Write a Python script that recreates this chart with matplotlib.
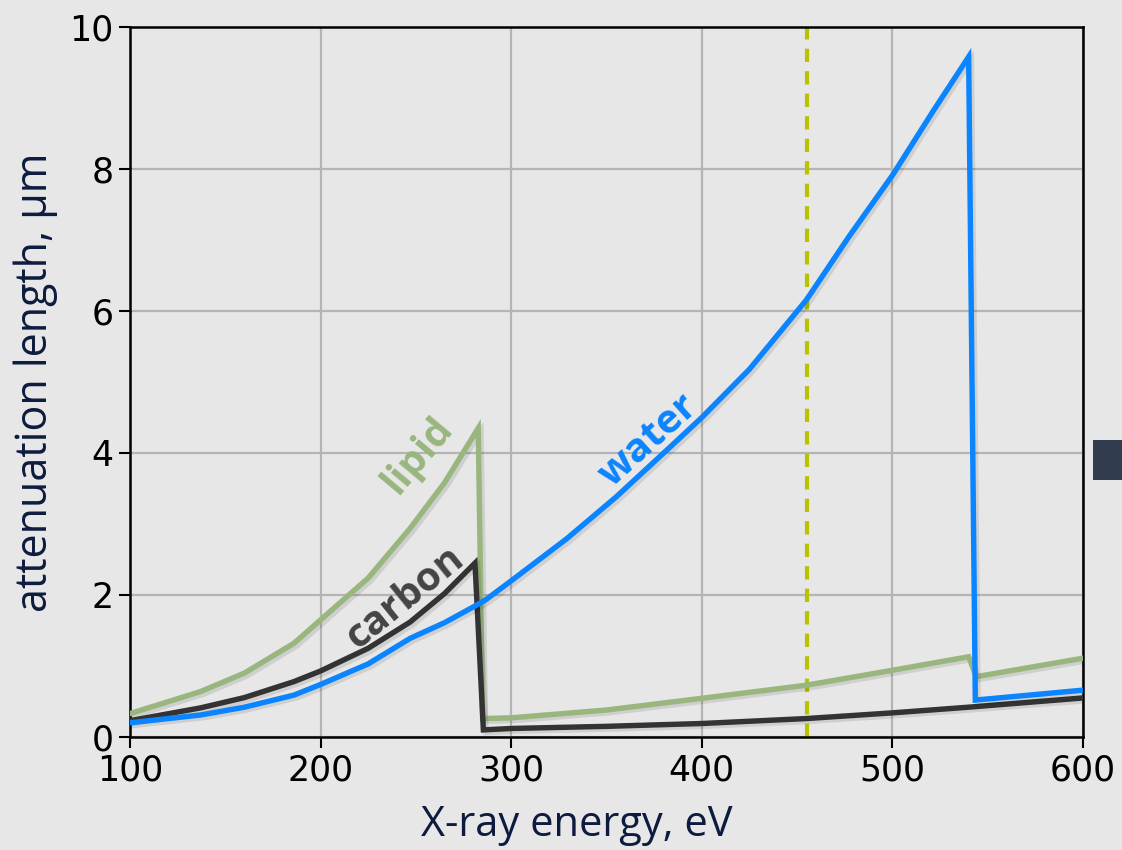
import matplotlib
matplotlib.use("Agg")
import matplotlib.pyplot as plt
import matplotlib.patheffects as pe
from matplotlib.patches import Rectangle

# ---- data ----
water_E = [100, 137, 160, 186, 200, 225, 247, 265, 282, 287, 300, 329, 355, 382, 400, 425, 455, 477, 500, 521, 540, 543.5, 600]
water_v = [0.20, 0.31, 0.42, 0.59, 0.74, 1.03, 1.39, 1.61, 1.86, 1.94, 2.20, 2.79, 3.38, 4.05, 4.50, 5.18, 6.16, 7.04, 7.91, 8.80, 9.58, 0.52, 0.66]

lipid_E = [100, 137, 160, 186, 200, 225, 247, 265, 282.7, 285, 300, 350, 400, 455, 500, 540, 544, 600]
lipid_v = [0.33, 0.64, 0.90, 1.32, 1.65, 2.24, 2.94, 3.58, 4.35, 0.26, 0.27, 0.38, 0.545, 0.73, 0.94, 1.13, 0.85, 1.11]

carbon_E = [100, 137, 160, 186, 200, 225, 247, 265, 281, 285.4, 300, 350, 400, 455, 500, 540, 600]
carbon_v = [0.23, 0.41, 0.555, 0.78, 0.93, 1.25, 1.62, 2.02, 2.45, 0.10, 0.12, 0.15, 0.19, 0.26, 0.34, 0.42, 0.55]

marker_E = 455
x_ticks = [100, 200, 300, 400, 500, 600]
y_ticks = [0, 2, 4, 6, 8, 10]

labels = ["water", "lipid", "carbon"]
label_pos = [(372, 4.17), (251, 3.97), (244, 1.96)]
label_rot = [42, 50, 39]

BG = "#e7e7e7"
C_WATER = "#0a84ff"
C_LIPID = "#99b67f"
C_CARBON = "#333333"
C_DASH = "#b8c200"
NAVY = "#0d1b3e"

fig = plt.figure(figsize=(11.22, 8.5), dpi=100, facecolor=BG)
ax = fig.add_axes([130/1122, 1-737/850, (1083-130)/1122, (737-27)/850])
ax.set_facecolor(BG)

shadow = [pe.SimpleLineShadow(offset=(2, -2), alpha=0.10, shadow_color="k"), pe.Normal()]

ax.grid(True, color="#b4b4b4", linewidth=1.6, zorder=0)
ax.set_axisbelow(True)

ax.axvline(marker_E, color=C_DASH, linewidth=3, linestyle=(0, (3.2, 2.2)), zorder=2)

ax.plot(lipid_E, lipid_v, color=C_LIPID, linewidth=3.9, solid_joinstyle="miter", path_effects=shadow, zorder=3)
ax.plot(carbon_E, carbon_v, color=C_CARBON, linewidth=3.9, solid_joinstyle="miter", path_effects=shadow, zorder=4)
ax.plot(water_E, water_v, color=C_WATER, linewidth=3.9, solid_joinstyle="miter", path_effects=shadow, zorder=5)

label_colors = [C_WATER, C_LIPID, "#444444"]
for txt, (lx, ly), rot, col in zip(labels, label_pos, label_rot, label_colors):
    ax.text(lx, ly, txt, color=col, fontsize=29, fontweight="bold", family="Open Sans",
            rotation=rot, ha="center", va="center", rotation_mode="anchor", zorder=6)

ax.set_xlim(100, 600)
ax.set_ylim(0, 10)
ax.set_xticks(x_ticks)
ax.set_yticks(y_ticks)
ax.tick_params(axis="both", direction="out", length=8, width=1.5, labelsize=25, colors="black", pad=4)
ax.tick_params(top=False, right=False)
for s in ax.spines.values():
    s.set_linewidth(1.8)
    s.set_color("black")

ax.set_xlabel("X-ray energy, eV", fontsize=30, color=NAVY, family="Open Sans")
ax.xaxis.set_label_coords(0.469, -0.095)
ax.set_ylabel("attenuation length, μm", fontsize=31, color=NAVY, family="Open Sans", labelpad=8)

fig.patches.append(Rectangle((1093/1122, 1-480/850), 29/1122, 40/850, transform=fig.transFigure,
                             facecolor="#323c4f", edgecolor="none"))

fig.savefig("out.png", dpi=100, facecolor=BG)
